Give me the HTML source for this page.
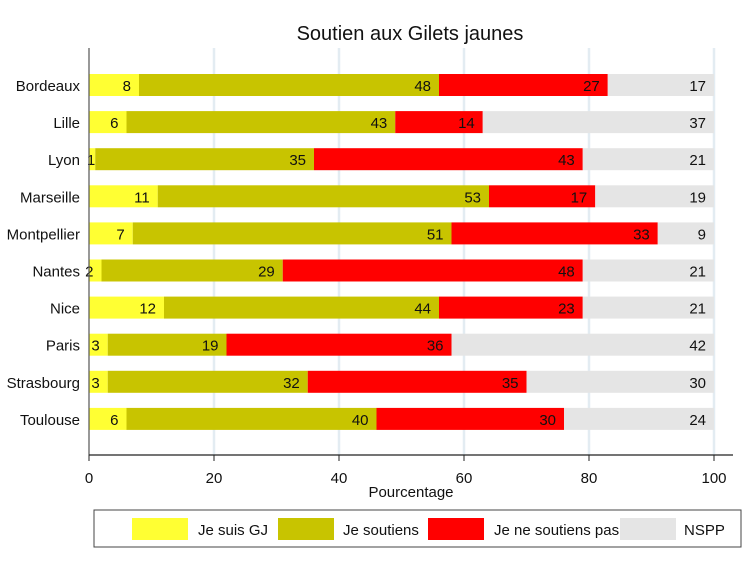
<!DOCTYPE html>
<html><head><meta charset="utf-8"><style>
body{margin:0;background:#fff;}
svg text{font-family:"Liberation Sans",Arial,sans-serif;}
</style></head><body>
<svg id="chart" width="754" height="575" xmlns="http://www.w3.org/2000/svg">
<rect width="754" height="575" fill="#fff"/>
<text x="410" y="40" font-size="20" text-anchor="middle" fill="#111">Soutien aux Gilets jaunes</text>
<g id="grid"></g>
<g id="bars"></g>
<line x1="89" y1="48" x2="89" y2="455" stroke="#555" stroke-width="1.2"/>
<line x1="89" y1="455" x2="733" y2="455" stroke="#222" stroke-width="1.2"/>
<g id="xticks"></g>
<text x="411" y="497" font-size="15" text-anchor="middle" fill="#111">Pourcentage</text>
<g id="legend">
<rect x="94" y="510" width="647" height="37" fill="#fff" stroke="#444" stroke-width="1"/>
</g>
</svg>
<script>
const cities=["Bordeaux","Lille","Lyon","Marseille","Montpellier","Nantes","Nice","Paris","Strasbourg","Toulouse"];
const gj=[8,6,1,11,7,2,12,3,3,6];
const soutiens=[48,43,35,53,51,29,44,19,32,40];
const nesoutiens=[27,14,43,17,33,48,23,36,35,30];
const nspp=[17,37,21,19,9,21,21,42,30,24];
const xTicks=[0,20,40,60,80,100];
const seriesNames=["Je suis GJ","Je soutiens","Je ne soutiens pas","NSPP"];
const colors=["#ffff33","#c8c400","#ff0000","#e5e5e5"];
const NS="http://www.w3.org/2000/svg";
const x=v=>89+v*6.25;
const y=i=>85+i*37.1;
function mk(tag,attrs,parent){const e=document.createElementNS(NS,tag);for(const k in attrs)e.setAttribute(k,attrs[k]);parent.appendChild(e);return e;}
const grid=document.getElementById('grid'),bars=document.getElementById('bars'),xt=document.getElementById('xticks'),leg=document.getElementById('legend');
xTicks.forEach(t=>{
  if(t>0){const g=mk('line',{x1:x(t),x2:x(t),y1:48,y2:455,stroke:'#e3ecf2','stroke-width':2.5},grid);
  
  }
  const tk=mk('line',{x1:x(t),x2:x(t),y1:455,y2:461,stroke:'#222'},xt);
  
  
  const tl=mk('text',{x:x(t),y:483,'font-size':15,'text-anchor':'middle',fill:'#111'},xt);tl.textContent=t;
  
  
});
const series=[gj,soutiens,nesoutiens,nspp];
cities.forEach((c,i)=>{
  const cl=mk('text',{x:80,y:y(i)+6,'font-size':15,'text-anchor':'end',fill:'#111'},bars);cl.textContent=c;
  
  
  let acc=0;
  series.forEach((s,k)=>{
    const v=s[i];
    const r=mk('rect',{x:x(acc),y:y(i)-11,width:v*6.25,height:22,fill:colors[k]},bars);
    
    
    acc+=v;
    const t=mk('text',{x:x(acc)-(v<2?0:8),y:y(i)+6,'font-size':15,'text-anchor':'end',fill:'#111'},bars);t.textContent=v;
    
    
  });
});
const swX=[132,278,428,620],txX=[198,343,494,684];
seriesNames.forEach((n,k)=>{
  const r=mk('rect',{x:swX[k],y:518,width:56,height:22,fill:colors[k]},leg);
  
  
  const t=mk('text',{x:txX[k],y:535,'font-size':15,fill:'#111'},leg);t.textContent=n;
  
  
});
</script>
</body></html>
